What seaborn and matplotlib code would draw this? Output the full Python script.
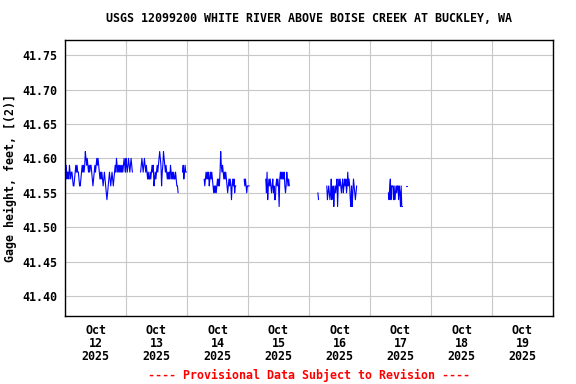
import matplotlib
matplotlib.use("Agg")
import matplotlib.pyplot as plt
import matplotlib.dates as mdates
import pandas as pd
import seaborn as sns

sns.set_style("white")
plt.rcParams["font.family"] = ["DejaVu Sans Mono"]
plt.rcParams["font.weight"] = "bold"
plt.rcParams["text.color"] = "black"
plt.rcParams["axes.labelcolor"] = "black"
plt.rcParams["xtick.color"] = "black"
plt.rcParams["ytick.color"] = "black"

# 15-minute gage height readings, in hundredths of a foot above 41 ft.
# Each list is one unbroken run of data, starting at the time in seg_starts.
seg_starts = ["2025-10-12 00:00", "2025-10-13 05:45", "2025-10-13 22:15",
              "2025-10-14 06:45", "2025-10-14 22:30", "2025-10-15 07:00",
              "2025-10-16 03:30", "2025-10-16 07:00", "2025-10-17 07:15",
              "2025-10-17 14:15"]
seg_a = [58, 57, 59, 57, 58, 58, 57, 59, 58, 57, 58, 58, 57, 56, 56, 57,
         58, 59, 58, 59, 58, 58, 57, 56, 56, 57, 58, 59, 58, 59, 58,
         59, 61, 60, 59, 60, 59, 58, 59, 58, 59, 59, 58, 57, 56, 57, 58,
         59, 58, 59, 60, 59, 60, 59, 58, 57, 58, 57, 58, 57, 56, 57, 58,
         57, 56, 55, 54, 55, 56, 57, 58, 57, 56, 57, 58, 57, 56, 57, 58,
         59, 58, 60, 59, 58, 59, 58, 59, 58, 59, 58, 59, 58, 59, 60,
         59, 58, 60, 59, 58, 59, 60, 59, 58, 59, 60, 59, 58]
seg_b1 = [58, 59, 60, 59, 58, 59, 60, 59, 58, 59, 58, 57, 58, 57, 57,
          58, 57, 58, 59, 58, 59, 56, 57, 58, 57, 58, 59, 58, 59, 60,
          61, 60, 59, 56, 58, 59, 61, 60, 59, 58, 59, 58, 57, 58, 57,
          58, 57, 59, 58, 57, 58, 57, 58, 57, 57, 58, 57, 56, 56, 55]
seg_b2 = [58, 59, 57, 58, 59, 58, 58]
seg_c1 = [57, 56, 57, 58, 57, 58, 57, 58, 56, 57, 58, 57, 58, 57, 56,
          55, 56, 55, 56, 55, 56, 57, 56, 57, 56, 58, 61, 59, 58, 59,
          58, 57, 58, 57, 58, 57, 56, 55, 56, 57, 56, 57, 56, 54, 56,
          57, 56, 57, 55, 56, 56]
seg_c2 = [57, 56, 57, 56, 55, 56, 56, 56, 56]
seg_d1 = [57, 55, 58, 54, 56, 57, 56, 57, 56, 55, 56, 57, 55, 56, 54,
          54, 56, 57, 56, 57, 56, 53, 57, 58, 57, 58, 57, 58, 57, 58,
          56, 55, 56, 58, 57, 56, 57, 56]
seg_d2 = [55, 54]
seg_e = [56, 54, 55, 56, 55, 54, 55, 57, 54, 55, 56, 53, 55, 56, 55,
         56, 57, 53, 56, 57, 56, 57, 56, 55, 56, 57, 55, 56, 57, 56,
         57, 55, 56, 58, 56, 57, 56, 54, 53, 56, 53, 55, 57, 56, 55,
         54, 55, 56]
seg_f1 = [55, 54, 56, 57, 54, 56, 56, 56, 54, 56, 54, 55, 56, 55, 56,
          56, 54, 56, 55, 53, 56, 53, 53]
seg_f2 = [56, 56]
segments = [seg_a, seg_b1, seg_b2, seg_c1, seg_c2, seg_d1, seg_d2,
            seg_e, seg_f1, seg_f2]

frames = []
for i, (start, vals) in enumerate(zip(seg_starts, segments)):
    frames.append(pd.DataFrame({
        "time": pd.date_range(start, periods=len(vals), freq="15min"),
        "gage": [41 + v / 100 for v in vals],
        "seg": i,
    }))
df = pd.concat(frames, ignore_index=True)

title = "USGS 12099200 WHITE RIVER ABOVE BOISE CREEK AT BUCKLEY, WA"
footer = "---- Provisional Data Subject to Revision ----"
y_ticks = [41.40, 41.45, 41.50, 41.55, 41.60, 41.65, 41.70, 41.75]

fig = plt.figure(figsize=(5.76, 3.84), dpi=100)
ax = fig.add_axes([65 / 576, 1 - 316 / 384, 488 / 576, 276 / 384])

sns.lineplot(data=df, x="time", y="gage", units="seg", estimator=None,
             color="#0000ff", linewidth=0.8, ax=ax, legend=False)

ax.set_xlim(pd.Timestamp("2025-10-12"), pd.Timestamp("2025-10-20"))
ax.set_ylim(41.371, 41.772)
ax.set_yticks(y_ticks)
ax.yaxis.set_major_formatter(plt.FormatStrFormatter("%.2f"))

# labels at noon, grid lines at midnight
ax.xaxis.set_major_locator(mdates.HourLocator(byhour=[12]))
ax.xaxis.set_major_formatter(mdates.DateFormatter("%b\n%d\n%Y"))
ax.xaxis.set_minor_locator(mdates.HourLocator(byhour=[0]))
ax.grid(False)
ax.grid(True, axis="x", which="minor", color="#c8c8c8", linewidth=0.8)
ax.grid(True, axis="y", which="major", color="#c8c8c8", linewidth=0.8)
ax.tick_params(axis="both", which="both", length=0, labelsize=8.4)
ax.tick_params(axis="y", pad=5.5)
ax.tick_params(axis="x", pad=6)
for lab in ax.get_xticklabels():
    lab.set_linespacing(1.0)

for sp in ax.spines.values():
    sp.set_color("black")
    sp.set_linewidth(1.0)

ax.set_xlabel("")
ax.set_ylabel("Gage height, feet, [(2)]", fontsize=8.4, fontweight="bold",
              labelpad=4)

fig.text(309 / 576, 1 - 19 / 384, title, ha="center", va="center",
         fontsize=8.4, fontweight="bold")
fig.text(309 / 576, 1 - 375 / 384, footer, ha="center", va="center",
         fontsize=8.4, fontweight="bold", color="#ff0000")

fig.savefig("out.png", dpi=100)
